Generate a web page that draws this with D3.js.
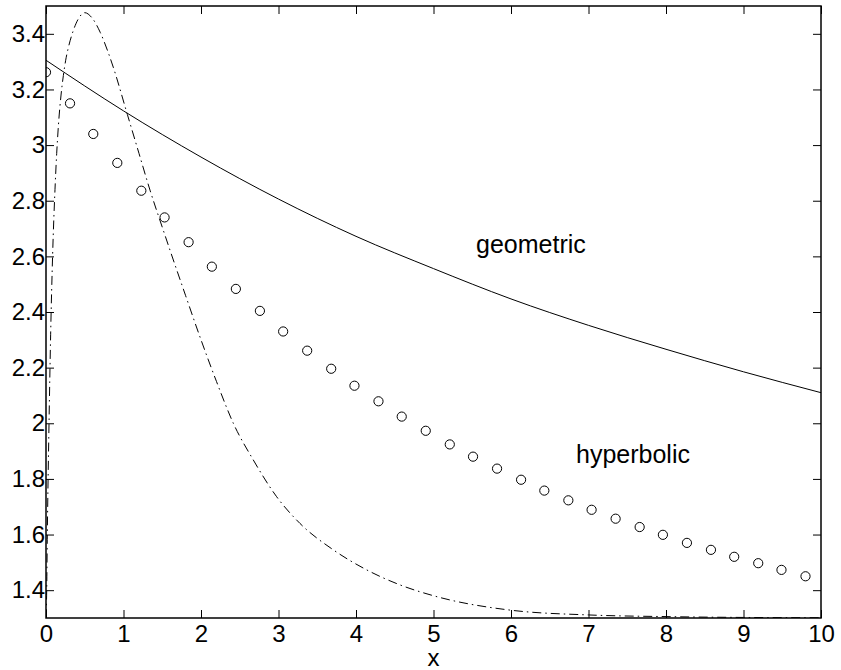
<!DOCTYPE html>
<html>
<head>
<meta charset="utf-8">
<script src="https://cdn.jsdelivr.net/npm/d3@7"></script>
<style>
  body { margin: 0; background: #fff; }
  text { font-family: "Liberation Sans", Arial, sans-serif; fill: #000; }
</style>
</head>
<body>
<div id="chart"></div>
<script>
// values
var xTicks = [0, 1, 2, 3, 4, 5, 6, 7, 8, 9, 10];
var yTicks = [1.4, 1.6, 1.8, 2, 2.2, 2.4, 2.6, 2.8, 3, 3.2, 3.4];

var geoX = [0, 1, 2, 3, 4, 5, 6, 7, 8, 9, 10];
var geoY = [3.305, 3.123, 2.957, 2.806, 2.672, 2.556, 2.447, 2.352, 2.266, 2.185, 2.110];

var hypX = [0, 0.31, 0.61, 0.92, 1.23, 1.53, 1.84, 2.14, 2.45, 2.76, 3.06, 3.37, 3.68, 3.98, 4.29, 4.59,
            4.90, 5.21, 5.51, 5.82, 6.13, 6.43, 6.74, 7.04, 7.35, 7.66, 7.96, 8.27, 8.58, 8.88, 9.19, 9.49, 9.80];
var hypY = [3.262, 3.150, 3.040, 2.936, 2.836, 2.740, 2.651, 2.563, 2.483, 2.404, 2.330, 2.261, 2.196, 2.135, 2.079, 2.024,
            1.973, 1.924, 1.880, 1.837, 1.797, 1.758, 1.723, 1.689, 1.657, 1.627, 1.599, 1.570, 1.545, 1.520, 1.497, 1.473, 1.450];

var dashX = [0, 0.009, 0.017, 0.039, 0.06, 0.086, 0.116, 0.138, 0.16, 0.194, 0.224, 0.254, 0.288, 0.35, 0.42, 0.5,
             0.6, 0.7, 0.8, 0.868, 1.05, 1.2, 1.342, 1.5, 1.643, 1.8, 2.0, 2.2, 2.417, 2.675, 2.976, 3.277,
             3.707, 4.138, 4.568, 5.0, 6.0, 7.0, 8.0, 9.0, 10];
var dashY = [1.30, 1.40, 1.60, 2.00, 2.32, 2.61, 2.84, 2.97, 3.07, 3.18, 3.25, 3.305, 3.35, 3.41, 3.455, 3.476,
             3.455, 3.405, 3.335, 3.28, 3.11, 2.97, 2.838, 2.705, 2.587, 2.46, 2.30, 2.15, 2.0, 1.868, 1.736, 1.64,
             1.545, 1.473, 1.419, 1.38, 1.328, 1.311, 1.305, 1.302, 1.301];

var width = 841;
var height = 670;
var plotLeft = 46, plotRight = 821, plotTop = 6, plotBottom = 618;
var tickLen = 8;

var x = d3.scaleLinear().domain([0, 10]).range([plotLeft, plotRight]);
var y = d3.scaleLinear().domain([1.3, 3.5]).range([plotBottom, plotTop]);

var svg = d3.select("#chart").append("svg")
  .attr("width", width)
  .attr("height", height);

svg.append("rect").attr("width", width).attr("height", height).attr("fill", "#fff");

svg.append("clipPath").attr("id", "plot")
  .append("rect")
  .attr("x", plotLeft).attr("y", plotTop)
  .attr("width", plotRight - plotLeft).attr("height", plotBottom - plotTop);

var plot = svg.append("g").attr("clip-path", "url(#plot)");

var line = d3.line()
  .x(function(d) { return x(d[0]); })
  .y(function(d) { return y(d[1]); })
  .curve(d3.curveMonotoneX);

plot.append("path")
  .datum(d3.zip(geoX, geoY))
  .attr("d", line)
  .attr("fill", "none")
  .attr("stroke", "#000")
  .attr("stroke-width", 1);

plot.append("path")
  .datum(d3.zip(dashX, dashY))
  .attr("d", line)
  .attr("fill", "none")
  .attr("stroke", "#000")
  .attr("stroke-width", 1)
  .attr("stroke-dasharray", "9,4,1.5,4");

plot.selectAll("circle")
  .data(d3.zip(hypX, hypY))
  .enter().append("circle")
  .attr("cx", function(d) { return x(d[0]); })
  .attr("cy", function(d) { return y(d[1]); })
  .attr("r", 4.6)
  .attr("fill", "none")
  .attr("stroke", "#000")
  .attr("stroke-width", 1);

// axes, MATLAB style: ticks pointing inward on all four sides
var fmt = function(d) { return String(+d.toFixed(1)); };

var xBottom = svg.append("g")
  .attr("transform", "translate(0," + plotBottom + ")")
  .call(d3.axisBottom(x).tickValues(xTicks).tickSize(-tickLen).tickPadding(7).tickFormat(fmt));
var xTop = svg.append("g")
  .attr("transform", "translate(0," + plotTop + ")")
  .call(d3.axisTop(x).tickValues(xTicks).tickSize(-tickLen).tickFormat(""));
var yLeft = svg.append("g")
  .attr("transform", "translate(" + plotLeft + ",0)")
  .call(d3.axisLeft(y).tickValues(yTicks).tickSize(-tickLen).tickPadding(1).tickFormat(fmt));
var yRight = svg.append("g")
  .attr("transform", "translate(" + plotRight + ",0)")
  .call(d3.axisRight(y).tickValues(yTicks).tickSize(-tickLen).tickFormat(""));

[xBottom, xTop, yLeft, yRight].forEach(function(g) {
  g.select(".domain").remove();
  g.selectAll(".tick line").attr("stroke", "#000").attr("stroke-width", 1);
  g.selectAll("text")
    .style("font-family", "'Liberation Sans', Arial, sans-serif")
    .style("font-size", "24px")
    .attr("fill", "#000");
});

svg.append("rect")
  .attr("x", plotLeft).attr("y", plotTop)
  .attr("width", plotRight - plotLeft).attr("height", plotBottom - plotTop)
  .attr("fill", "none")
  .attr("stroke", "#000")
  .attr("stroke-width", 1.5);

svg.append("text")
  .text("x")
  .attr("x", (plotLeft + plotRight) / 2)
  .attr("y", 666)
  .attr("text-anchor", "middle")
  .style("font-size", "24px");

svg.append("text")
  .text("geometric")
  .attr("x", 476)
  .attr("y", 253)
  .style("font-size", "25px");

svg.append("text")
  .text("hyperbolic")
  .attr("x", 576)
  .attr("y", 463)
  .style("font-size", "25px");
</script>
</body>
</html>
